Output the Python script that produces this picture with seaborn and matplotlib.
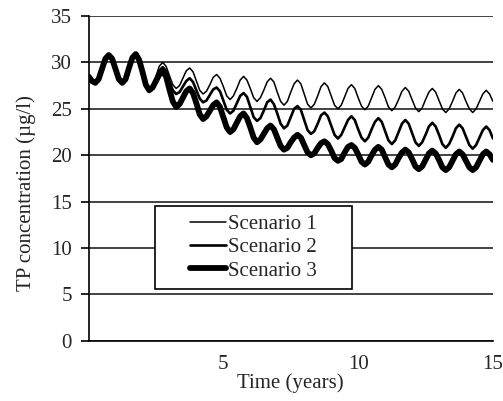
import numpy as np
import pandas as pd
import matplotlib
matplotlib.use("Agg")
import matplotlib.pyplot as plt
from matplotlib.patches import Rectangle
from matplotlib.ticker import MultipleLocator
import seaborn as sns

# Simulated TP concentration, sampled every 1/8 year over 15 years
time_years = np.linspace(0, 15, 121)

# first 2.25 years are identical for all scenarios
spin_up = [28.5, 28.0, 27.8, 28.2, 29.3, 30.4, 30.8, 30.4,
           29.3, 28.2, 27.8, 28.2, 29.4, 30.5, 30.9, 30.3,
           29.0, 27.6, 27.0]

scenario_1 = spin_up + [
    27.4, 28.5, 29.6, 30.0, 29.6, 28.6, 27.6, 27.2,
    27.5, 28.3, 29.1, 29.4, 29.0, 28.0, 27.0, 26.6,
    26.9, 27.6, 28.4, 28.7, 28.3, 27.4, 26.4, 26.0,
    26.4, 27.2, 28.1, 28.5, 28.1, 27.2, 26.2, 25.8,
    26.2, 27.0, 27.9, 28.3, 27.9, 26.8, 25.8, 25.4,
    25.8, 26.8, 27.7, 28.1, 27.7, 26.6, 25.5, 25.1,
    25.5, 26.4, 27.4, 27.8, 27.4, 26.4, 25.4, 25.0,
    25.4, 26.3, 27.2, 27.6, 27.2, 26.2, 25.3, 24.9,
    25.3, 26.2, 27.1, 27.5, 27.1, 26.2, 25.2, 24.8,
    25.2, 26.0, 26.9, 27.3, 26.9, 26.0, 25.1, 24.7,
    25.1, 26.0, 26.8, 27.2, 26.8, 25.9, 25.0, 24.6,
    25.0, 25.8, 26.7, 27.1, 26.7, 25.8, 25.0, 24.6,
    25.0, 25.8, 26.6, 27.0, 26.6, 25.8]

scenario_2 = spin_up + [
    27.4, 28.2, 29.1, 29.5, 29.1, 28.0, 27.0, 26.6,
    26.8, 27.4, 28.0, 28.3, 27.9, 27.0, 26.1, 25.7,
    25.9, 26.5, 27.1, 27.3, 26.9, 25.9, 24.9, 24.5,
    24.8, 25.6, 26.4, 26.7, 26.3, 25.2, 24.1, 23.7,
    24.0, 24.8, 25.7, 26.0, 25.5, 24.5, 23.4, 22.9,
    23.2, 24.1, 25.0, 25.3, 24.9, 23.8, 22.7, 22.3,
    22.6, 23.4, 24.3, 24.6, 24.2, 23.2, 22.2, 21.8,
    22.2, 23.0, 23.8, 24.2, 23.8, 22.8, 21.9, 21.5,
    21.9, 22.8, 23.6, 24.0, 23.6, 22.6, 21.6, 21.2,
    21.6, 22.5, 23.4, 23.8, 23.4, 22.4, 21.4, 21.0,
    21.4, 22.2, 23.1, 23.5, 23.1, 22.2, 21.2, 20.8,
    21.2, 22.0, 22.9, 23.3, 22.9, 22.0, 21.1, 20.7,
    21.1, 21.9, 22.7, 23.1, 22.7, 21.8]

scenario_3 = spin_up + [
    27.3, 28.0, 28.7, 29.0, 28.5, 27.1, 25.8, 25.2,
    25.5, 26.2, 26.9, 27.2, 26.7, 25.6, 24.4, 23.9,
    24.2, 24.8, 25.4, 25.7, 25.2, 24.1, 23.0, 22.5,
    22.8, 23.5, 24.2, 24.5, 24.0, 23.0, 21.9, 21.4,
    21.7, 22.3, 22.9, 23.2, 22.8, 21.9, 21.0, 20.6,
    20.8, 21.4, 21.9, 22.2, 21.9, 21.1, 20.3, 20.0,
    20.2, 20.8, 21.3, 21.5, 21.2, 20.5, 19.7, 19.4,
    19.6, 20.3, 20.9, 21.1, 20.8, 20.1, 19.3, 19.0,
    19.3, 20.0, 20.6, 20.9, 20.6, 19.8, 19.0, 18.7,
    19.0, 19.7, 20.3, 20.6, 20.3, 19.6, 18.8, 18.5,
    18.8, 19.5, 20.2, 20.5, 20.2, 19.5, 18.7, 18.4,
    18.7, 19.4, 20.1, 20.4, 20.1, 19.4, 18.7, 18.4,
    18.7, 19.4, 20.1, 20.4, 20.1, 19.5]

scenario_names = ["Scenario 1", "Scenario 2", "Scenario 3"]
line_widths = [1.1, 1.9, 4.2]

x_ticks = [0, 5, 10, 15]
x_tick_labels = ["", "5", "10", "15"]
y_ticks = [0, 5, 10, 15, 20, 25, 30, 35]

df = pd.DataFrame({
    "Time": np.tile(time_years, 3),
    "TP": scenario_1 + scenario_2 + scenario_3,
    "Scenario": np.repeat(scenario_names, len(time_years)),
})

sns.set_style("white")
plt.rcParams["font.family"] = ["Liberation Serif", "DejaVu Serif"]

fig = plt.figure(figsize=(5.03, 4.01), dpi=100)
ax = fig.add_axes([0.176, 0.150, 0.804, 0.810])

for name, lw in zip(scenario_names, line_widths):
    sub = df[df["Scenario"] == name]
    sns.lineplot(data=sub, x="Time", y="TP", color="black", linewidth=lw,
                 label=name, ax=ax, solid_joinstyle="round",
                 solid_capstyle="round", zorder=3)

ax.set_xlim(0, 15)
ax.set_ylim(0, 35)
ax.set_xticks(x_ticks)
ax.set_xticklabels(x_tick_labels)
ax.xaxis.set_minor_locator(MultipleLocator(1))
ax.set_yticks(y_ticks)

ax.grid(axis="y", color="#111111", linewidth=1.1)
ax.grid(axis="x", visible=False)
for side in ["top", "right"]:
    ax.spines[side].set_visible(False)
for side in ["left", "bottom"]:
    ax.spines[side].set_color("black")
    ax.spines[side].set_linewidth(1.2)

ax.tick_params(axis="x", which="major", direction="inout", length=10,
               width=1.2, color="black", labelsize=15, pad=5)
ax.tick_params(axis="x", which="minor", direction="in", length=4,
               width=1.2, color="black")
ax.tick_params(axis="y", which="major", direction="out", length=6,
               width=1.2, color="black", labelsize=15, pad=6, left=True)

ax.set_xlabel("Time (years)", fontsize=15, labelpad=0)
ax.set_ylabel("TP concentration (\u00b5g/l)", fontsize=15)
ax.yaxis.set_label_coords(-0.13, 0.455)

handles, labels = ax.get_legend_handles_labels()
leg = ax.legend(handles, labels, loc="center", bbox_to_anchor=(0.408, 0.287),
                frameon=False, fontsize=15, handlelength=1.75,
                handletextpad=0.1, labelspacing=0.18)
leg.set_zorder(6)
ax.add_patch(Rectangle((0.1645, 0.159), 0.4875, 0.256, transform=ax.transAxes,
                       facecolor="white", edgecolor="black", linewidth=1.2,
                       zorder=5))

fig.savefig("out.png", dpi=100, facecolor="white")
